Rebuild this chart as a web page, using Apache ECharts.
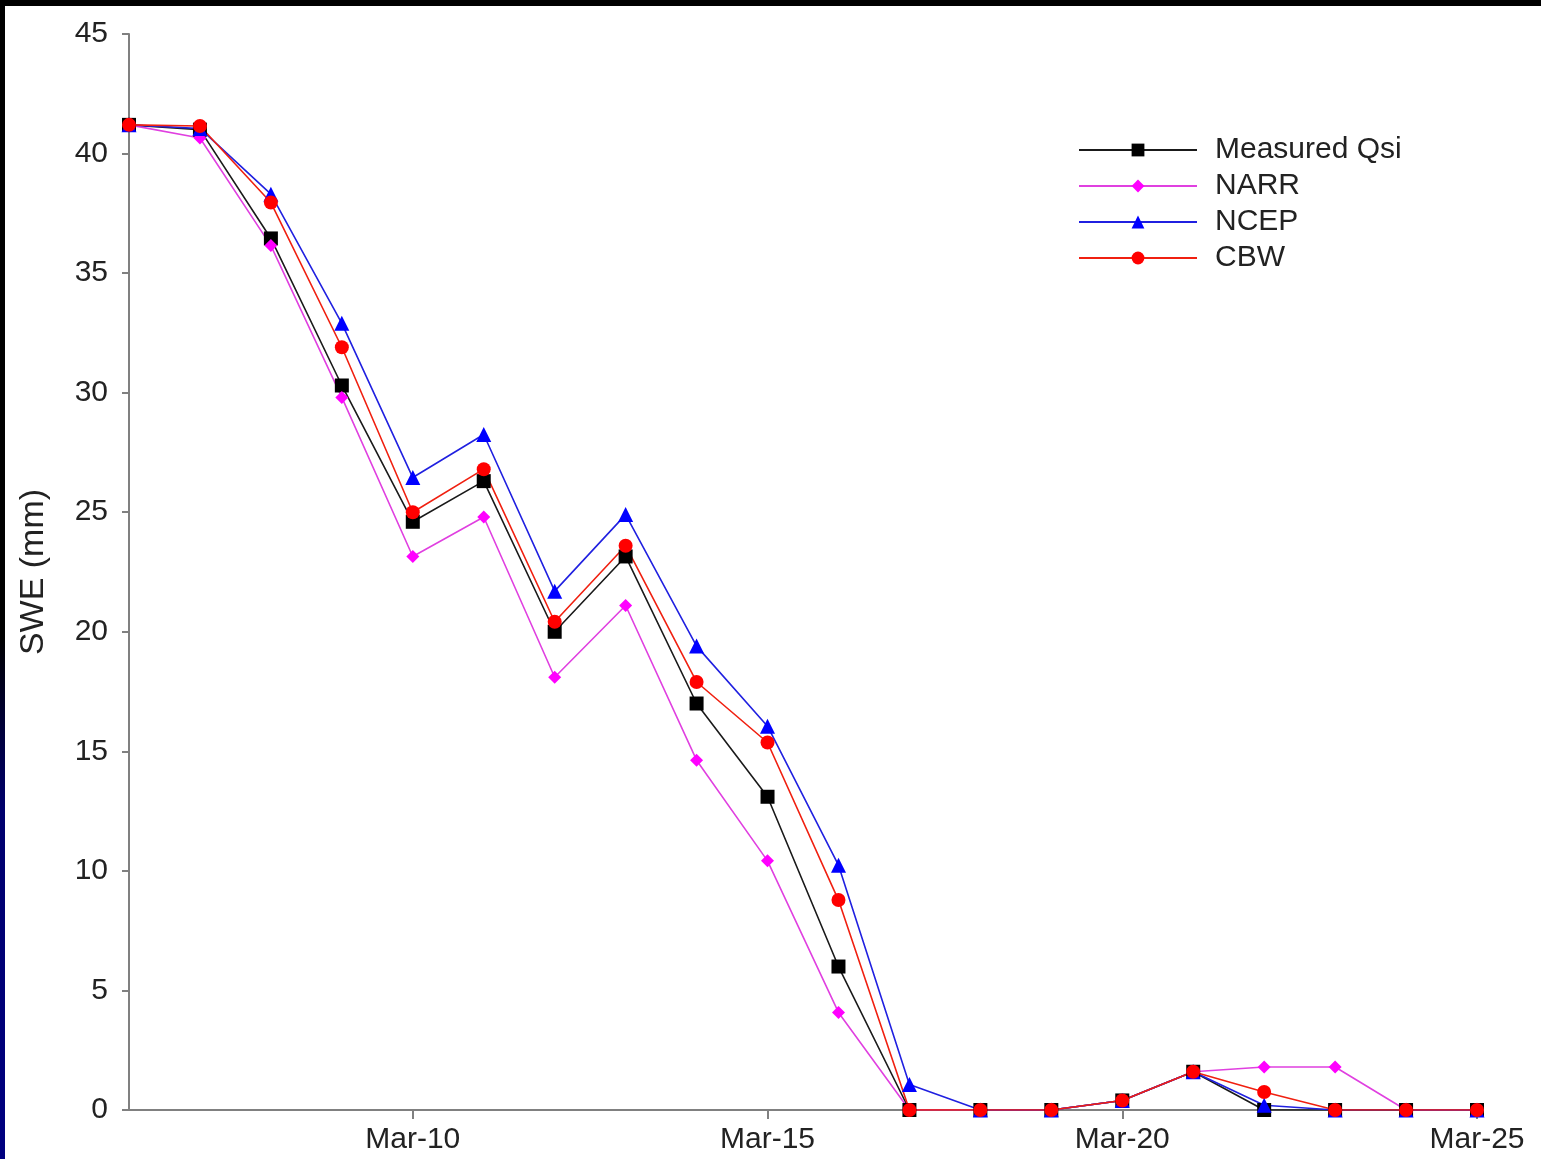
<!DOCTYPE html>
<html>
<head>
<meta charset="utf-8">
<script src="https://cdn.jsdelivr.net/npm/echarts@6/dist/echarts.min.js"></script>
<style>
html,body{margin:0;padding:0;background:#fff;}
#chart{width:1541px;height:1159px;}
#topbar{position:absolute;left:0;top:0;width:1541px;height:6px;background:#000;}
#leftbar{position:absolute;left:0;top:0;width:5px;height:1159px;background:linear-gradient(#000 0%,#000 55%,#00006e 70%,#000080 100%);}
</style>
</head>
<body>
<div id="chart"></div>
<div id="topbar"></div>
<div id="leftbar"></div>
<script>
const categories = ['Mar-6','Mar-7','Mar-8','Mar-9','Mar-10','Mar-11','Mar-12','Mar-13','Mar-14','Mar-15','Mar-16','Mar-17','Mar-18','Mar-19','Mar-20','Mar-21','Mar-22','Mar-23','Mar-24','Mar-25'];
const tickLabels = ['Mar-10','Mar-15','Mar-20','Mar-25'];
const measuredQsi = [41.2,41.0,36.45,30.3,24.6,26.3,20.0,23.15,17.0,13.1,6.0,0,0,0,0.4,1.6,0,0,0,0];
const narr =        [41.2,40.65,36.15,29.8,23.15,24.8,18.1,21.1,14.63,10.42,4.08,0,0,0,0.4,1.6,1.8,1.8,0,0];
const ncep =        [41.2,41.05,38.3,32.9,26.45,28.25,21.7,24.9,19.4,16.05,10.24,1.07,0,0,0.4,1.6,0.2,0,0,0];
const cbw =         [41.2,41.15,37.95,31.9,25.0,26.8,20.42,23.6,17.9,15.37,8.78,0,0,0,0.4,1.6,0.75,0,0,0];
const yTicks = {min:0, max:45, interval:5};

const chart = echarts.init(document.getElementById('chart'));
const font = 'Liberation Sans, Arial, sans-serif';
function mk(name, data, color, lineColor, symbol, size){
  return {name, type:'line', data, symbol, symbolSize:size, showSymbol:true,
    lineStyle:{color:lineColor, width:1.6}, itemStyle:{color:color, borderColor:color, borderWidth:0},
    animation:false, z:2};
}
chart.setOption({
  backgroundColor:'#ffffff',
  animation:false,
  grid:{left:129, right:64, top:34, bottom:49, containLabel:false},
  legend:{
    left:1073, top:127, orient:'vertical', itemWidth:118, itemHeight:16, itemGap:0,
    textStyle:{fontFamily:font, fontSize:30, color:'#222', lineHeight:36, padding:[0,0,0,13]},
    data:['Measured Qsi','NARR','NCEP','CBW']
  },
  xAxis:{
    type:'category', data:categories, boundaryGap:false,
    axisLine:{lineStyle:{color:'#808080', width:2}},
    axisTick:{show:true, length:9, interval:(i,v)=>tickLabels.indexOf(v)>=0, lineStyle:{color:'#808080', width:2}},
    axisLabel:{interval:(i,v)=>tickLabels.indexOf(v)>=0, fontFamily:font, fontSize:30, color:'#222', margin:15},
    splitLine:{show:false}
  },
  yAxis:{
    type:'value', min:yTicks.min, max:yTicks.max, interval:yTicks.interval,
    name:'SWE (mm)', nameLocation:'middle', nameGap:78, nameRotate:90,
    nameTextStyle:{fontFamily:font, fontSize:34, color:'#222'},
    axisLine:{show:true, lineStyle:{color:'#808080', width:2}},
    axisTick:{show:true, length:7, lineStyle:{color:'#808080', width:2}},
    axisLabel:{fontFamily:font, fontSize:30, color:'#222', margin:21},
    splitLine:{show:false}
  },
  series:[
    mk('Measured Qsi', measuredQsi, '#000000', '#1a1a1a', 'rect', 14),
    mk('NARR', narr, '#ff00ff', '#e040e0', 'diamond', 13),
    mk('NCEP', ncep, '#0000ff', '#2020e0', 'triangle', 15),
    mk('CBW', cbw, '#ff0000', '#f02010', 'circle', 14)
  ]
});
</script>
</body>
</html>
